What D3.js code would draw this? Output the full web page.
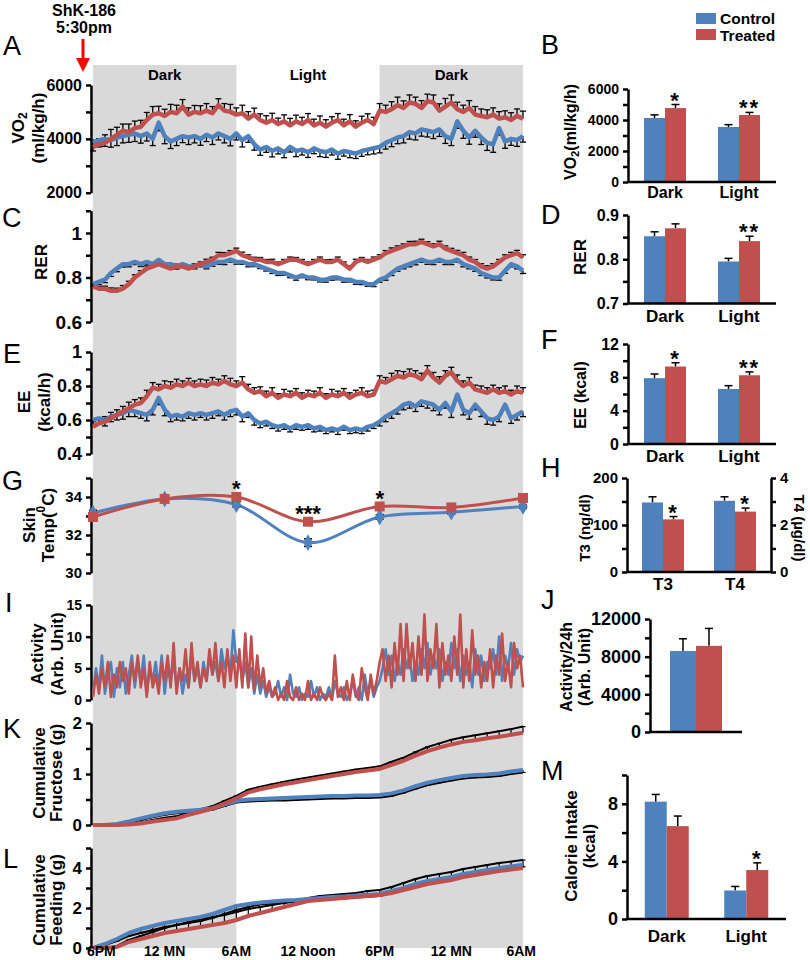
<!DOCTYPE html>
<html><head><meta charset="utf-8">
<script src="https://cdn.jsdelivr.net/npm/d3@7"></script>
<style>
body{margin:0;background:#fff}
svg{display:block}
</style></head><body>
<svg id="c" width="810" height="960"></svg>
<script>
// ================= DATA =================
const phaseNames = ["Dark", "Light", "Dark"];
const phaseStart = [0, 12, 24];
const phaseEnd = [12, 24, 36];
const timeTickHours = [0, 6, 12, 18, 24, 30, 36];
const timeTickLabels = ["6PM", "12 MN", "6AM", "12 Noon", "6PM", "12 MN", "6AM"];

// A: VO2 (ml/kg/h), every 30 min from 6PM
const vo2Treated = [3700,3800,3850,4000,4150,4300,4250,4400,4450,4700,4900,4950,
 4850,5000,4950,5200,4900,5000,4950,5050,4950,5250,5050,5000,
 4900,4950,4750,4900,4700,4600,4700,4550,4650,4500,4650,4550,
 4700,4500,4600,4450,4600,4700,4500,4650,4450,4600,4700,4550,
 5050,5000,5100,5250,5150,5350,5300,5150,5400,5350,5050,5200,
 5350,5100,5000,5150,4900,4850,4800,4900,4750,4800,4700,4850,4750];
const vo2Control = [3850,3950,4000,3950,4050,4100,4150,4200,4100,4200,4000,4600,
 4100,3900,4000,4100,4050,4100,4000,4150,4050,4200,4100,4000,
 4200,3950,4100,3800,3600,3700,3550,3650,3500,3700,3550,3600,
 3500,3650,3550,3500,3600,3450,3550,3500,3450,3550,3600,3650,
 3700,3850,3950,4050,4100,4250,4200,4350,4300,4250,4350,4100,
 4000,4650,4300,4050,4300,4050,3850,3800,4400,3900,4000,3950,4100];
const vo2TreatedSem = [250,200,300,350,280,250,300,260,240,280,300,260,
 250,280,300,260,250,240,280,260,250,240,260,280,
 250,300,260,240,230,260,250,220,240,260,230,250,
 240,230,250,260,220,240,230,250,220,240,230,250,
 260,250,280,300,260,280,250,270,260,280,250,300,
 280,260,250,270,300,260,280,250,260,240,270,260,280];
const vo2ControlSem = [300,250,280,260,300,250,280,300,260,280,250,300,
 280,260,250,240,260,250,240,250,260,240,250,260,
 240,250,230,220,210,200,220,210,200,190,210,200,
 190,200,210,190,200,210,190,200,180,200,190,210,
 220,230,240,230,250,260,240,250,230,240,260,270,
 250,260,280,250,240,260,280,300,260,250,240,230,220];

// C: RER
const rerControl = [.77,.78,.79,.82,.84,.86,.86,.87,.86,.87,.86,.88,
 .86,.86,.85,.86,.85,.85,.86,.85,.86,.87,.87,.88,
 .87,.87,.86,.86,.85,.84,.83,.82,.82,.81,.80,.81,
 .80,.80,.79,.79,.80,.80,.79,.79,.78,.78,.77,.77,
 .79,.80,.82,.84,.85,.86,.87,.88,.87,.87,.88,.87,
 .87,.88,.86,.85,.84,.82,.81,.80,.80,.83,.86,.85,.83];
const rerTreated = [.76,.75,.75,.74,.74,.75,.77,.80,.82,.84,.85,.86,
 .85,.84,.85,.85,.84,.85,.86,.87,.88,.90,.90,.91,
 .92,.90,.89,.88,.88,.87,.87,.86,.87,.88,.88,.87,
 .86,.87,.88,.87,.87,.88,.86,.84,.87,.88,.87,.88,
 .89,.91,.92,.93,.94,.95,.95,.96,.95,.94,.95,.93,
 .92,.91,.90,.88,.87,.85,.84,.85,.87,.89,.90,.91,.89];
const rerTreatedSem = [.012,.010,.011,.013,.012,.014,.013,.012,.011,.012,.013,.012,
 .011,.012,.010,.011,.012,.011,.010,.012,.011,.013,.012,.011,
 .012,.014,.012,.011,.010,.011,.012,.010,.011,.012,.010,.011,
 .010,.011,.012,.010,.011,.012,.010,.011,.012,.010,.011,.012,
 .012,.011,.013,.012,.011,.012,.013,.012,.011,.012,.013,.012,
 .011,.012,.013,.012,.011,.012,.013,.012,.011,.012,.013,.012,.012];
const rerControlSem = [.011,.012,.013,.015,.014,.013,.012,.012,.011,.012,.011,.012,
 .012,.011,.012,.011,.010,.011,.012,.011,.010,.011,.012,.011,
 .010,.011,.012,.011,.010,.011,.012,.011,.010,.011,.012,.011,
 .010,.011,.010,.011,.012,.010,.011,.010,.011,.012,.010,.011,
 .011,.012,.011,.012,.011,.012,.013,.012,.011,.012,.011,.012,
 .012,.011,.012,.011,.012,.011,.012,.011,.012,.011,.012,.011,.012];

// E: EE (kcal/h)
const eeControl = [.60,.61,.60,.62,.63,.64,.66,.65,.64,.63,.66,.73,
 .66,.62,.63,.62,.64,.63,.64,.63,.64,.65,.63,.65,
 .66,.62,.64,.60,.58,.59,.57,.56,.57,.55,.57,.56,
 .57,.55,.56,.54,.55,.54,.56,.54,.55,.54,.56,.57,
 .59,.62,.64,.66,.69,.70,.68,.71,.70,.69,.66,.70,
 .65,.75,.66,.64,.69,.65,.61,.60,.62,.69,.61,.63,.65];
const eeTreated = [.56,.58,.59,.61,.63,.65,.67,.69,.70,.74,.79,.78,
 .80,.79,.81,.80,.82,.80,.81,.80,.82,.81,.83,.81,
 .80,.82,.78,.76,.77,.74,.76,.73,.75,.74,.76,.73,
 .75,.74,.76,.73,.75,.74,.76,.73,.75,.76,.74,.75,
 .83,.82,.84,.86,.85,.87,.86,.84,.89,.85,.82,.86,
 .88,.83,.80,.82,.78,.77,.76,.78,.76,.77,.75,.77,.76];
const eeTreatedSem = [.03,.025,.03,.035,.03,.03,.035,.03,.03,.035,.03,.03,
 .03,.035,.03,.03,.025,.03,.03,.035,.03,.03,.03,.035,
 .03,.035,.03,.03,.025,.03,.03,.025,.03,.03,.025,.03,
 .025,.03,.03,.025,.03,.03,.025,.03,.025,.03,.03,.025,
 .03,.03,.035,.03,.035,.03,.03,.035,.03,.03,.035,.03,
 .03,.035,.03,.03,.025,.03,.03,.025,.03,.03,.025,.03,.03];
const eeControlSem = [.03,.03,.035,.03,.03,.035,.04,.03,.03,.035,.03,.04,
 .035,.03,.03,.025,.03,.03,.025,.03,.03,.025,.03,.03,
 .03,.03,.025,.03,.025,.025,.02,.025,.025,.02,.025,.02,
 .025,.02,.025,.02,.02,.025,.02,.02,.025,.02,.025,.02,
 .025,.03,.03,.025,.03,.03,.03,.03,.03,.035,.03,.03,
 .035,.03,.03,.035,.03,.03,.035,.03,.03,.025,.03,.03,.03];

// G: skin temperature (deg C) every 6 h
const skinHours = [0, 6, 12, 18, 24, 30, 36];
const skinControl = [33.15, 33.9, 33.6, 31.6, 32.95, 33.2, 33.5];
const skinTreated = [32.95, 33.9, 34.0, 32.7, 33.5, 33.45, 33.95];
const skinControlSem = [0.15, 0.1, 0.12, 0.2, 0.12, 0.1, 0.1];
const skinTreatedSem = [0.1, 0.1, 0.1, 0.1, 0.12, 0.1, 0.1];
const skinStars = ["", "", "*", "***", "*", "", ""];

// I: activity every 15 min
const actControl = [1,5,2,7,1,4,6,0.5,5,2,6,1,
 4,7,2,6,3,7,1,5,3,6,2,7,
 1,5,3,6,2,5,1,4,2,7,3,5,
 2,6,3,7,4,6,3,8,5,7,4,11,
 6,
 7,3,6,2,5,1,4,1,3,0.5,2,0.5,
 1,3,0.5,2,0,4,1,0.5,2,0,1,0.5,
 3,0.5,2,0,1,0.5,2,0,3,1,0.5,2,
 0,1,3,0.5,2,0,4,1,3,0.5,2,3,
 5,8,4,7,3,6,4,8,5,7,3,6,
 4,8,5,9,4,7,5,8,3,6,4,9,
 5,8,3,7,4,6,2,8,4,7,3,6,
 5,8,4,10,3,7,5,9,4,8,6,7];
const actTreated = [0.5,4,1,5,2,6,0.5,4,2,6,3,5,
 1,6,3,7,2,5,0.5,6,2,4,1,6,
 3,7,2,9,1,5,3,8,2,9,3,6,
 2,5,3,8,4,9,3,6,2,8,3,7,
 2,
 8,2,10.5,2,10,1.5,7,2,5,1,3,0.5,
 2,0,1,0,3,0.5,0,2,0,1,0,3,
 0,1,0,2,0.5,0,1,0,7,0.5,2,0,
 3,0,4,1,0,5,2,0,4,1,3,6,
 8,3,7,2,9,4,12,3,12,5,9,3,
 10,4,13.5,3,8,5,12,2,9,4,7,3,
 10,4,13.5,2,8,3,11,4,7,2,6,3,
 8,2,7,4,10.5,3,6,2,9,5,7,2];

// K: cumulative fructose (g), hourly
const fructControl = [0,0,0.02,0.07,0.13,0.18,0.23,0.26,0.28,0.30,0.33,0.40,0.47,0.50,0.51,0.52,0.53,0.54,0.55,0.56,0.57,0.57,0.58,0.58,0.59,0.62,0.68,0.76,0.83,0.88,0.92,0.96,0.98,0.99,1.01,1.05,1.08];
const fructTreated = [0,0,0,0.01,0.03,0.07,0.10,0.13,0.20,0.26,0.32,0.42,0.52,0.64,0.70,0.75,0.80,0.84,0.88,0.92,0.96,1.00,1.04,1.07,1.10,1.18,1.26,1.36,1.45,1.52,1.58,1.63,1.66,1.70,1.73,1.77,1.81];
const fructControlSem = [0,0,0.01,0.02,0.03,0.03,0.03,0.03,0.03,0.03,0.03,0.03,0.03,0.04,0.04,0.04,0.05,0.05,0.05,0.05,0.05,0.05,0.05,0.05,0.05,0.05,0.05,0.05,0.05,0.05,0.05,0.05,0.05,0.05,0.05,0.05,0.05];
const fructTreatedSem = [0,0,0,0.01,0.02,0.03,0.04,0.04,0.05,0.05,0.05,0.05,0.05,0.05,0.05,0.05,0.05,0.05,0.05,0.05,0.05,0.05,0.05,0.05,0.05,0.06,0.06,0.07,0.08,0.08,0.09,0.09,0.10,0.10,0.11,0.11,0.12];

// L: cumulative feeding (g), hourly
const feedControl = [0,0.2,0.45,0.75,0.95,1.1,1.25,1.35,1.45,1.55,1.7,1.9,2.1,2.2,2.28,2.33,2.37,2.4,2.45,2.5,2.55,2.58,2.62,2.66,2.7,2.85,3.0,3.2,3.35,3.45,3.55,3.7,3.8,3.9,4.0,4.08,4.16];
const feedTreated = [0,0,0.05,0.3,0.45,0.6,0.75,0.85,0.95,1.05,1.15,1.25,1.4,1.6,1.75,1.9,2.05,2.2,2.35,2.4,2.45,2.5,2.55,2.6,2.65,2.75,2.9,3.05,3.2,3.3,3.4,3.55,3.65,3.75,3.85,3.92,4.0];
const feedControlSem = [0,0.05,0.1,0.15,0.2,0.2,0.2,0.2,0.2,0.2,0.2,0.2,0.2,0.15,0.1,0.1,0.1,0.1,0.1,0.1,0.1,0.1,0.1,0.1,0.1,0.1,0.1,0.1,0.1,0.1,0.1,0.1,0.1,0.1,0.1,0.1,0.1];
const feedTreatedSem = [0,0,0.05,0.1,0.15,0.2,0.25,0.3,0.35,0.4,0.4,0.4,0.4,0.35,0.3,0.25,0.2,0.15,0.15,0.2,0.2,0.2,0.2,0.25,0.25,0.3,0.35,0.4,0.4,0.4,0.4,0.4,0.4,0.4,0.4,0.4,0.4];

// Bar panels
const phaseCats = ["Dark", "Light"];
const vo2BarControl = [4130, 3550], vo2BarControlSem = [200, 150];
const vo2BarTreated = [4770, 4320], vo2BarTreatedSem = [230, 170];
const vo2BarStars = ["*", "**"];
const rerBarControl = [0.852, 0.795], rerBarControlSem = [0.010, 0.007];
const rerBarTreated = [0.870, 0.841], rerBarTreatedSem = [0.010, 0.011];
const rerBarStars = ["", "**"];
const eeBarControl = [7.9, 6.6], eeBarControlSem = [0.5, 0.4];
const eeBarTreated = [9.3, 8.25], eeBarTreatedSem = [0.45, 0.4];
const eeBarStars = ["*", "**"];
const thyCats = ["T3", "T4"];
const thyControl = [148, 3.03], thyControlSem = [12, 0.17];
const thyTreated = [112, 2.57], thyTreatedSem = [6, 0.15];
const thyStars = ["*", "*"];
const actCats = [""];
const actBarControl = [8600], actBarControlSem = [1300];
const actBarTreated = [9150], actBarTreatedSem = [1850];
const actBarStars = [""];
const calControl = [8.15, 1.98], calControlSem = [0.5, 0.28];
const calTreated = [6.45, 3.4], calTreatedSem = [0.7, 0.5];
const calStars = ["", "*"];

// ================= DRAWING =================
const FONT = "'Liberation Sans', Arial, Helvetica, sans-serif";
const BLUE = "#4f81bd", RED = "#c0504d", SHADE = "#d9d9d9";
const svg = d3.select("#c").attr("font-family", FONT).attr("font-weight", "bold");

const tHalf = d3.range(0, 36.001, 0.5);
const tQuarter = d3.range(0, 36.001, 0.25);
const tHour = d3.range(0, 36.001, 1);
const x = d3.scaleLinear().domain([0, 36]).range([93, 523]);
const AX = 91;

function addRich(t, str, fs) {
  const parts = str.split(/(_\{[^}]*\}|\^\{[^}]*\})/).filter(s => s !== "");
  let shift = 0;
  parts.forEach(p => {
    let txt = p, size = null, ns = 0;
    if (p.startsWith("_{")) { txt = p.slice(2, -1); ns = fs * 0.3; size = fs * 0.7; }
    else if (p.startsWith("^{")) { txt = p.slice(2, -1); ns = -fs * 0.4; size = fs * 0.7; }
    const ts = t.append("tspan").attr("dy", ns - shift).text(txt);
    if (size) ts.attr("font-size", size);
    shift = ns;
  });
}
function rotLabel(str, cx, cy, fs, angle) {
  const t = svg.append("text").attr("transform", `translate(${cx},${cy}) rotate(${angle || -90})`)
    .attr("text-anchor", "middle").attr("dominant-baseline", "central").attr("font-size", fs).attr("fill", "#000");
  addRich(t, str, fs);
}
function letter(ch, lx, ly) {
  svg.append("text").attr("x", lx).attr("y", ly).attr("font-size", 27).attr("font-weight", "normal").text(ch);
}
function styleAxis(g, fs) {
  g.attr("font-family", FONT).attr("font-size", fs).attr("font-weight", "bold");
  g.selectAll("path.domain").attr("stroke", "#000").attr("stroke-width", 2.5);
  g.selectAll(".tick line").attr("stroke", "#000").attr("stroke-width", 2.5);
  g.selectAll(".tick text").attr("fill", "#000");
}
function yAxis(y, xpos, major, minor, fs, fmt, right) {
  const mk = right ? d3.axisRight : d3.axisLeft;
  const g = svg.append("g").attr("transform", `translate(${xpos},0)`)
    .call(mk(y).tickValues(major).tickSize(5).tickSizeOuter(0).tickPadding(4).tickFormat(fmt || (d => d)));
  styleAxis(g, fs);
  if (minor && minor.length) {
    const m = svg.append("g").attr("transform", `translate(${xpos},0)`)
      .call(mk(y).tickValues(minor).tickSize(5).tickSizeOuter(0).tickFormat(""));
    m.select("path.domain").remove();
    styleAxis(m, fs);
  }
}

// ---- background shading + phase labels
phaseNames.forEach((n, i) => {
  if (n === "Dark") svg.append("rect").attr("x", x(phaseStart[i])).attr("width", x(phaseEnd[i]) - x(phaseStart[i]))
    .attr("y", 65).attr("height", 948 - 65).attr("fill", SHADE);
  svg.append("text").attr("x", x((phaseStart[i] + phaseEnd[i]) / 2)).attr("y", 80).attr("text-anchor", "middle")
    .attr("font-size", 15).text(n);
});

// ---- injection arrow
svg.append("text").attr("x", 84).attr("y", 16).attr("text-anchor", "middle").attr("font-size", 16).text("ShK-186");
svg.append("text").attr("x", 84).attr("y", 33).attr("text-anchor", "middle").attr("font-size", 16).text("5:30pm");
svg.append("line").attr("x1", 83).attr("x2", 83).attr("y1", 39).attr("y2", 60).attr("stroke", "#ff0000").attr("stroke-width", 3);
svg.append("path").attr("d", "M76,58 L90,58 L83,72 Z").attr("fill", "#ff0000");

function errBars(y, ts, vals, sem, dir, capW, sw) {
  const g = svg.append("g").attr("stroke", "#000").attr("stroke-width", sw || 1.3);
  ts.forEach((t, i) => {
    const e = sem[i] || 0; if (!e) return;
    const xx = x(t), y1 = y(vals[i]), y2 = y(vals[i] + dir * e);
    g.append("line").attr("x1", xx).attr("x2", xx).attr("y1", y1).attr("y2", y2);
    g.append("line").attr("x1", xx - capW / 2).attr("x2", xx + capW / 2).attr("y1", y2).attr("y2", y2);
  });
}
function seriesLine(y, ts, vals, color, lw, curve) {
  svg.append("path").datum(vals)
    .attr("d", d3.line().x((d, i) => x(ts[i])).y(d => y(d)).curve(curve || d3.curveLinear))
    .attr("fill", "none").attr("stroke", color).attr("stroke-width", lw).attr("stroke-linejoin", "round");
}

// ---- A: VO2
const yA = d3.scaleLinear().domain([2000, 6000]).range([192.7, 85]);
yAxis(yA, AX, [2000, 4000, 6000], [3000, 5000], 16);
letter("A", 3, 55);
rotLabel("VO_{2}", 18, 128, 17); rotLabel("(ml/kg/h)", 38, 128, 17);
errBars(yA, tHalf, vo2Control, vo2ControlSem, -1, 6);
errBars(yA, tHalf, vo2Treated, vo2TreatedSem, 1, 6);
seriesLine(yA, tHalf, vo2Control, BLUE, 4.5);
seriesLine(yA, tHalf, vo2Treated, RED, 4.5);

// ---- C: RER
const yC = d3.scaleLinear().domain([0.6, 1.1]).range([322, 210.75]);
yAxis(yC, AX, [0.6, 0.8, 1], [0.7, 0.9, 1.1], 19);
letter("C", 2, 227);
rotLabel("RER", 41, 262, 17);
errBars(yC, tHalf, rerControl, rerControlSem, -1, 6);
errBars(yC, tHalf, rerTreated, rerTreatedSem, 1, 6);
seriesLine(yC, tHalf, rerControl, BLUE, 4.5);
seriesLine(yC, tHalf, rerTreated, RED, 4.5);

// ---- E: EE
const yE = d3.scaleLinear().domain([0.4, 1]).range([454, 352]);
yAxis(yE, AX, [0.4, 0.6, 0.8, 1], [0.5, 0.7, 0.9], 18);
letter("E", 3, 363);
rotLabel("EE", 24, 402, 17); rotLabel("(kcal/h)", 44, 402, 17);
errBars(yE, tHalf, eeControl, eeControlSem, -1, 6);
errBars(yE, tHalf, eeTreated, eeTreatedSem, 1, 6);
seriesLine(yE, tHalf, eeControl, BLUE, 4.5);
seriesLine(yE, tHalf, eeTreated, RED, 4.5);

// ---- G: Skin temperature
const yG = d3.scaleLinear().domain([30, 35]).range([573, 478]);
yAxis(yG, AX, [30, 32, 34], [31, 33, 35], 15);
letter("G", 2, 490);
rotLabel("Skin", 29, 525, 17); rotLabel("Temp(^{0}C)", 48, 525, 17);
seriesLine(yG, skinHours, skinControl, BLUE, 3, d3.curveCatmullRom.alpha(0.5));
seriesLine(yG, skinHours, skinTreated, RED, 3, d3.curveCatmullRom.alpha(0.5));
errBars(yG, skinHours, skinControl, skinControlSem, -1, 8, 1.5);
errBars(yG, skinHours, skinControl, skinControlSem, 1, 8, 1.5);
errBars(yG, skinHours, skinTreated, skinTreatedSem, 1, 8, 1.5);
skinHours.forEach((h, i) => {
  svg.append("path").attr("transform", `translate(${x(h)},${yG(skinControl[i])})`)
    .attr("d", d3.symbol(d3.symbolDiamond, 80)()).attr("fill", BLUE);
  svg.append("rect").attr("x", x(h) - 5).attr("y", yG(skinTreated[i]) - 5).attr("width", 10).attr("height", 10).attr("fill", RED);
  if (skinStars[i]) svg.append("text").attr("x", x(h)).attr("y", yG(Math.max(skinControl[i], skinTreated[i])) - 1)
    .attr("text-anchor", "middle").attr("font-size", 22).text(skinStars[i]);
});

// ---- I: Activity
const yI = d3.scaleLinear().domain([0, 15]).range([700, 605]);
yAxis(yI, AX, [0, 5, 10, 15], [], 14);
letter("I", 5, 612);
rotLabel("Activity", 37, 654, 17); rotLabel("(Arb. Unit)", 57, 654, 17);
seriesLine(yI, tQuarter, actControl, BLUE, 2.6);
seriesLine(yI, tQuarter, actTreated, RED, 2.6);

// ---- K: cumulative fructose
const yK = d3.scaleLinear().domain([0, 2]).range([825, 723]);
yAxis(yK, AX, [0, 1, 2], [0.5, 1.5], 17);
letter("K", 3, 738);
rotLabel("Cumulative", 39, 773, 17); rotLabel("Fructose (g)", 56, 773, 17);
function semEdge(y, ts, vals, sem, dir) {
  svg.append("path").datum(vals)
    .attr("d", d3.line().x((d, i) => x(ts[i])).y((d, i) => y(d + dir * sem[i])))
    .attr("fill", "none").attr("stroke", "#000").attr("stroke-width", 2);
}
errBars(yK, tHour, fructControl, fructControlSem, -1, 5, 1.2);
errBars(yK, tHour, fructTreated, fructTreatedSem, 1, 5, 1.2);
semEdge(yK, tHour, fructControl, fructControlSem, -1);
semEdge(yK, tHour, fructTreated, fructTreatedSem, 1);
seriesLine(yK, tHour, fructControl, BLUE, 4);
seriesLine(yK, tHour, fructTreated, RED, 4);

// ---- L: cumulative feeding
const yL = d3.scaleLinear().domain([0, 5]).range([948, 848]);
yAxis(yL, AX, [0, 2, 4], [1, 3, 5], 17);
letter("L", 3, 868);
rotLabel("Cumulative", 39, 900, 17); rotLabel("Feeding (g)", 56, 900, 17);
errBars(yL, tHour, feedControl, feedControlSem, -1, 5, 1.2);
errBars(yL, tHour, feedTreated, feedTreatedSem, 1, 5, 1.2);
semEdge(yL, tHour, feedControl, feedControlSem, -1);
semEdge(yL, tHour, feedTreated, feedTreatedSem, 1);
seriesLine(yL, tHour, feedControl, BLUE, 4);
seriesLine(yL, tHour, feedTreated, RED, 4);

// time axis labels (first label nudged right so it clears the "0" tick label)
timeTickHours.forEach((h, i) => {
  const t = svg.append("text").attr("y", 956).attr("font-size", 14).text(timeTickLabels[i]);
  if (i === 0) t.attr("x", x(h) - 6).attr("text-anchor", "start");
  else if (i === timeTickHours.length - 1) t.attr("x", x(h) + 13).attr("text-anchor", "end");
  else t.attr("x", x(h)).attr("text-anchor", "middle");
});

// ================= BAR PANELS =================
function barPanel(c) {
  const xb = d3.scaleBand().domain(c.cats).range([c.x0, c.x1]);
  const base = c.y.range()[0];
  c.cats.forEach((cat, i) => {
    const ys = c.scales ? c.scales[i] : c.y;
    const cx = xb(cat) + xb.bandwidth() / 2;
    [[c.ctrl[i], c.ctrlSem[i], BLUE, cx - c.bw], [c.treat[i], c.treatSem[i], RED, cx]].forEach(([v, e, col, bx]) => {
      const ex = bx + c.bw / 2;
      svg.append("line").attr("x1", ex).attr("x2", ex).attr("y1", ys(v)).attr("y2", ys(v + e)).attr("stroke", "#000").attr("stroke-width", 1.5);
      svg.append("line").attr("x1", ex - 4).attr("x2", ex + 4).attr("y1", ys(v + e)).attr("y2", ys(v + e)).attr("stroke", "#000").attr("stroke-width", 1.5);
      svg.append("rect").attr("x", bx).attr("y", ys(v)).attr("width", c.bw).attr("height", base - ys(v)).attr("fill", col);
    });
    if (c.stars[i]) {
      svg.append("text").attr("x", cx + c.bw / 2).attr("y", ys(c.treat[i] + c.treatSem[i]) + 3)
        .attr("text-anchor", "middle").attr("font-size", 22).attr("letter-spacing", 2).text(c.stars[i]);
    }
    if (cat) svg.append("text").attr("x", cx).attr("y", c.catY).attr("text-anchor", "middle").attr("font-size", c.catFs).text(cat);
  });
  yAxis(c.y, c.x0, c.major, c.minor, c.fs, c.fmt);
  if (c.y2) yAxis(c.y2, c.x1, c.major2, c.minor2, c.fs, null, true);
  svg.append("line").attr("x1", c.x0 - 1).attr("x2", c.x1 + (c.y2 ? 1 : 0)).attr("y1", base).attr("y2", base).attr("stroke", "#000").attr("stroke-width", 2.5);
}

// legend
svg.append("rect").attr("x", 696).attr("y", 13).attr("width", 20).attr("height", 11).attr("fill", BLUE);
svg.append("rect").attr("x", 696).attr("y", 29).attr("width", 20).attr("height", 11).attr("fill", RED);
svg.append("text").attr("x", 720).attr("y", 23.5).attr("font-size", 15.5).text("Control");
svg.append("text").attr("x", 720).attr("y", 40.5).attr("font-size", 15.5).text("Treated");

// B
letter("B", 541, 54);
rotLabel("VO_{2}(ml/kg/h)", 570, 132, 16);
barPanel({ cats: phaseCats, x0: 628, x1: 776, y: d3.scaleLinear().domain([0, 6000]).range([182, 89]),
  major: [0, 2000, 4000, 6000], minor: [1000, 3000, 5000], fs: 14, bw: 21, catY: 198, catFs: 16,
  ctrl: vo2BarControl, ctrlSem: vo2BarControlSem, treat: vo2BarTreated, treatSem: vo2BarTreatedSem, stars: vo2BarStars });

// D
letter("D", 541, 224);
rotLabel("RER", 580, 257, 17);
barPanel({ cats: phaseCats, x0: 628, x1: 776, y: d3.scaleLinear().domain([0.7, 0.9]).range([303.5, 215]),
  major: [0.7, 0.8, 0.9], minor: [0.75, 0.85], fs: 16, bw: 21, catY: 322, catFs: 17,
  ctrl: rerBarControl, ctrlSem: rerBarControlSem, treat: rerBarTreated, treatSem: rerBarTreatedSem, stars: rerBarStars });

// F
letter("F", 541, 349);
rotLabel("EE (kcal)", 580, 395, 16);
barPanel({ cats: phaseCats, x0: 628, x1: 776, y: d3.scaleLinear().domain([0, 12]).range([444, 344]),
  major: [0, 4, 8, 12], minor: [2, 6, 10], fs: 16, bw: 21, catY: 462, catFs: 17,
  ctrl: eeBarControl, ctrlSem: eeBarControlSem, treat: eeBarTreated, treatSem: eeBarTreatedSem, stars: eeBarStars });

// H
letter("H", 541, 477);
rotLabel("T3 (ng/dl)", 584, 528, 15);
rotLabel("T4 (µg/dl)", 800, 528, 15, 90);
const yH = d3.scaleLinear().domain([0, 200]).range([572, 478]);
const yH2 = d3.scaleLinear().domain([0, 4]).range([572, 478]);
barPanel({ cats: thyCats, x0: 627, x1: 771, y: yH, y2: yH2, scales: [yH, yH2],
  major: [0, 100, 200], minor: [50, 150], major2: [0, 2, 4], minor2: [1, 3], fs: 15, bw: 21, catY: 590, catFs: 17,
  ctrl: thyControl, ctrlSem: thyControlSem, treat: thyTreated, treatSem: thyTreatedSem, stars: thyStars });

// J
letter("J", 541, 609);
rotLabel("Activity/24h", 566, 667, 16); rotLabel("(Arb. Unit)", 584, 667, 16);
barPanel({ cats: actCats, x0: 650, x1: 742, y: d3.scaleLinear().domain([0, 12000]).range([732, 619]),
  major: [0, 4000, 8000, 12000], minor: [2000, 6000, 10000], fs: 18, bw: 26, catY: 750, catFs: 17,
  ctrl: actBarControl, ctrlSem: actBarControlSem, treat: actBarTreated, treatSem: actBarTreatedSem, stars: actBarStars });

// M
letter("M", 541, 780);
rotLabel("Calorie Intake", 571, 846, 17); rotLabel("(kcal)", 589, 846, 17);
barPanel({ cats: phaseCats, x0: 627, x1: 786, y: d3.scaleLinear().domain([0, 10]).range([919, 775]),
  major: [0, 4, 8], minor: [2, 6, 10], fs: 18, bw: 22, catY: 942, catFs: 17,
  ctrl: calControl, ctrlSem: calControlSem, treat: calTreated, treatSem: calTreatedSem, stars: calStars });
</script>
</body></html>
